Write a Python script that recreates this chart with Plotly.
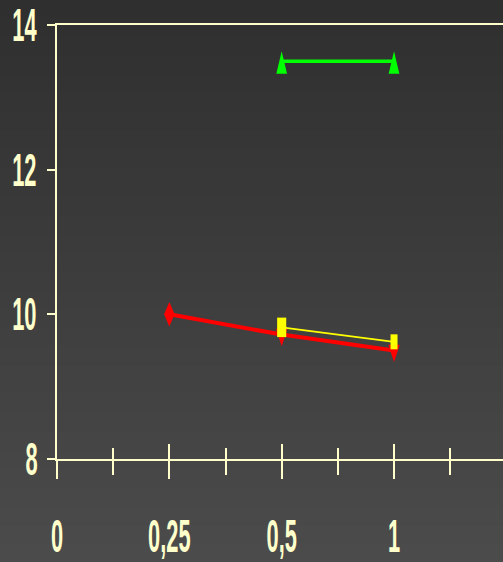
import plotly.graph_objects as go

# Category positions along the x axis and their labels
categories = ["0", "0,25", "0,5", "1"]
cat_pos = [0, 1, 2, 3]

# Series values
red_x = ["0,25", "0,5", "1"]
red_y = [10.0, 9.72, 9.5]
red_symbols = ["diamond", "triangle-down", "triangle-down"]

yellow_x = ["0,5", "1"]
yellow_y = [9.82, 9.62]

green_x = ["0,5", "1"]
green_y = [13.5, 13.5]

y_ticks = [8, 10, 12, 14]

AXIS = "#ffffcc"
FONT = "Liberation Sans, Arial, sans-serif"

pos = dict(zip(categories, cat_pos))

fig = go.Figure()

fig.add_trace(go.Scatter(
    x=[pos[c] for c in red_x], y=red_y, mode="lines+markers",
    line=dict(color="#ff0000", width=4),
    marker=dict(symbol=red_symbols, size=[13, 16, 16], color="#ff0000",
                opacity=1, line=dict(width=0)),
    showlegend=False, hoverinfo="skip",
))
fig.add_trace(go.Scatter(
    x=[pos[c] for c in yellow_x], y=yellow_y, mode="lines+markers",
    line=dict(color="#ffff00", width=1.8),
    marker=dict(symbol="square", size=[13, 10], color="#ffff00",
                opacity=1, line=dict(width=0)),
    showlegend=False, hoverinfo="skip",
))
fig.add_trace(go.Scatter(
    x=[pos[c] for c in green_x], y=green_y, mode="lines+markers",
    line=dict(color="#00ff00", width=3.5),
    marker=dict(symbol="triangle-up", size=15, color="#00ff00",
                opacity=1, line=dict(width=0)),
    showlegend=False, hoverinfo="skip",
))
# empty trace that carries the inner half of the crossing x ticks
fig.add_trace(go.Scatter(x=[None], y=[None], xaxis="x2", yaxis="y",
                         showlegend=False, hoverinfo="skip"))

# vertical background gradient built from thin bands
bands = 60
top_rgb = (0x2f, 0x2f, 0x2f)
bot_rgb = (0x4b, 0x4b, 0x4b)
y_top, y_bot = 1.06, -0.24
shapes = []
for i in range(bands):
    t = i / (bands - 1)
    c = tuple(round(top_rgb[k] + (bot_rgb[k] - top_rgb[k]) * t) for k in range(3))
    y0 = y_top - (y_top - y_bot) * i / bands
    y1 = y_top - (y_top - y_bot) * (i + 1) / bands
    shapes.append(dict(type="rect", xref="paper", yref="paper",
                       x0=-0.2, x1=1.1, y0=y1 - 0.002, y1=y0 + 0.002,
                       fillcolor="rgb(%d,%d,%d)" % c, line=dict(width=0),
                       layer="below"))

x_range = [0, 3.97]
minor_vals = [0.5, 1.5, 2.5, 3.5]

fig.update_layout(
    width=503, height=562,
    margin=dict(l=57, r=0, t=25, b=103),
    paper_bgcolor="#3d3d3d",
    plot_bgcolor="rgba(0,0,0,0)",
    shapes=shapes,
    xaxis=dict(
        range=x_range, tickmode="array", tickvals=cat_pos, ticktext=categories,
        showgrid=False, zeroline=False, automargin=False,
        showline=True, linecolor=AXIS, linewidth=2, mirror=True,
        ticks="outside", ticklen=18, tickwidth=1.5, tickcolor=AXIS,
        minor=dict(tickmode="array", tickvals=minor_vals,
                   ticks="outside", ticklen=14, tickwidth=1.5, tickcolor=AXIS),
        tickfont=dict(family=FONT, size=26, color=AXIS, weight="bold"),
        ticklabelstandoff=35,
    ),
    xaxis2=dict(
        range=x_range, overlaying="x", anchor="y", matches="x",
        tickmode="array", tickvals=cat_pos, showticklabels=False,
        showgrid=False, zeroline=False, showline=False,
        ticks="inside", ticklen=15, tickwidth=1.5, tickcolor=AXIS,
        minor=dict(tickmode="array", tickvals=minor_vals,
                   ticks="inside", ticklen=11, tickwidth=1.5, tickcolor=AXIS),
    ),
    yaxis=dict(
        range=[8, 14], tickmode="array", tickvals=y_ticks,
        showgrid=False, zeroline=False, automargin=False,
        showline=True, linecolor=AXIS, linewidth=2,
        ticks="outside", ticklen=8, tickwidth=2, tickcolor=AXIS,
        tickfont=dict(family=FONT, size=26, color=AXIS, weight="bold"),
        ticklabelstandoff=3,
    ),
)

# Narrow, tall lettering and markers: stretch each tick label about its own
# centre and each marker about its own anchor once the plot is drawn.
post_js = """
var gd = document.getElementById('{plot_id}');
var TEXT_SCALE = [0.84, 1.78];
var MARKER_SCALE = [[0.62, 1.45, 0], [0.7, 1.5, 0], [0.62, 2.0, 5]];
gd.querySelectorAll('.xtick text, .ytick text').forEach(function (t) {
  var b = t.getBBox();
  var cx = b.x + b.width / 2, cy = b.y + b.height / 2;
  var base = t.getAttribute('transform') || '';
  t.setAttribute('transform', base + ' translate(' + cx + ',' + cy + ') scale(' +
    TEXT_SCALE[0] + ',' + TEXT_SCALE[1] + ') translate(' + (-cx) + ',' + (-cy) + ')');
});
gd.querySelectorAll('.scatterlayer .trace').forEach(function (tr, i) {
  var s = MARKER_SCALE[i];
  if (!s) return;
  tr.querySelectorAll('path.point').forEach(function (p) {
    var base = p.getAttribute('transform') || '';
    p.setAttribute('transform', base + ' translate(0,' + s[2] + ') scale(' + s[0] + ',' + s[1] + ')');
  });
});
"""

fig.write_html("out.html", post_script=post_js)
